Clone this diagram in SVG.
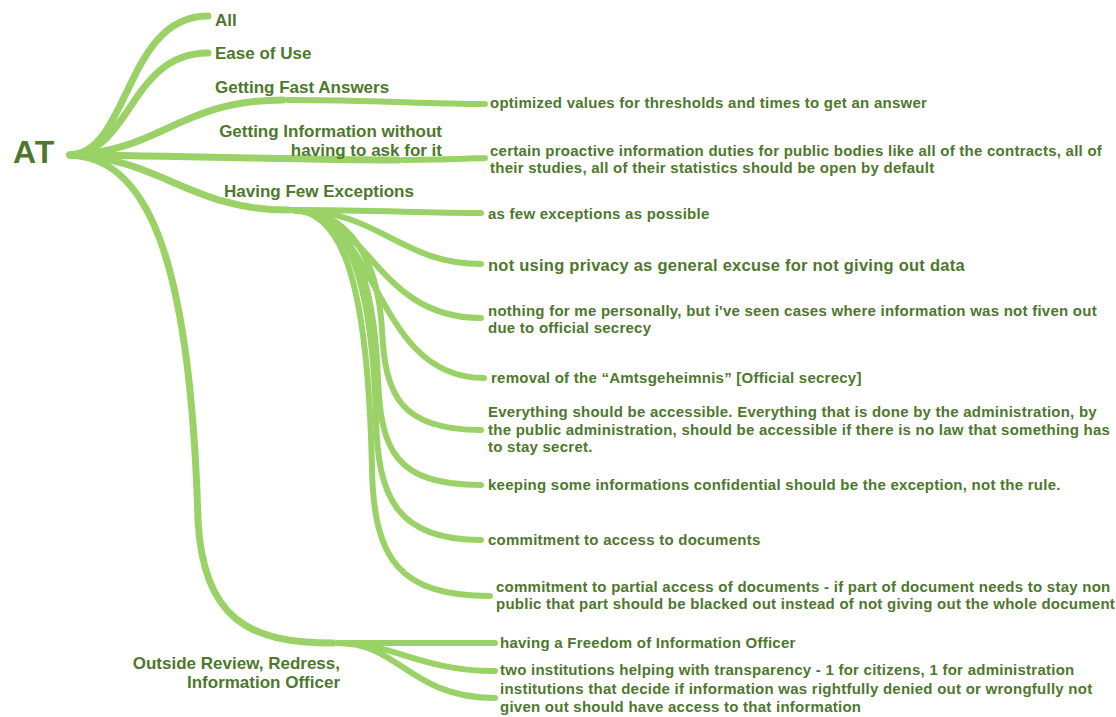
<svg xmlns="http://www.w3.org/2000/svg" width="1116" height="717" viewBox="0 0 1116 717">
  <style>
    .br { fill: none; stroke: #9bd267; stroke-width: 7; stroke-linecap: round; stroke-linejoin: round; }
    .lf { fill: none; stroke: #9bd267; stroke-width: 6; stroke-linecap: round; stroke-linejoin: round; }
    text { font-family: "Liberation Sans", Arial, sans-serif; font-weight: bold; fill: #4d782d; }
    .root { font-size: 32px; letter-spacing: 1px; }
    .topic { font-size: 17px; }
    .leaf { font-size: 15px; letter-spacing: 0.25px; }
    .leaf-big { font-size: 16.5px; letter-spacing: 0.25px; }
  </style>

  <!-- branch lines -->
  <g id="connectors">
    <!-- root to topics -->
    <path class="br" d="M70,155 C130,152 125,16 208,16"/>
    <path class="br" d="M70,155 C132,152 130,53 208,53"/>
    <path class="br" d="M70,155 C160,152 180,100 283,100"/>
    <path class="br" d="M70,155 C200,156 300,160 398,160"/>
    <path class="br" d="M70,155 C160,158 190,210 288,210"/>
    <path class="br" d="M70,155 C145,158 190,250 198,520 C203,620 250,643 333,643"/>

    <!-- Getting Fast Answers -->
    <path class="lf" d="M288,100 C380,100 420,104 485,104"/>
    <!-- Getting Information without having to ask for it -->
    <path class="lf" d="M403,160 C440,160 460,159 485,158"/>

    <!-- Having Few Exceptions -->
    <path class="lf" d="M292,210 C380,210 420,213 481,213"/>
    <path class="lf" d="M292,210 C380,210 400,264 481,264"/>
    <path class="lf" d="M292,210 C370,212 375,318 481,318"/>
    <path class="lf" d="M292,210 C380,212 372,378 484,378"/>
    <path class="lf" d="M292,210 C350,210 378,260 382,330 C385,395 400,430 481,430"/>
    <path class="lf" d="M292,210 C348,210 374,270 378,380 C381,450 395,485 481,485"/>
    <path class="lf" d="M292,210 C345,210 372,270 376,420 C378,495 395,540 481,540"/>
    <path class="lf" d="M292,210 C342,210 368,280 372,470 C374,560 400,596 490,596"/>

    <!-- Outside Review, Redress, Information Officer -->
    <path class="lf" d="M338,643 L495,643"/>
    <path class="lf" d="M338,643 C395,643 420,671 495,671"/>
    <path class="lf" d="M338,643 C400,643 410,698 495,698"/>
  </g>

  <g id="root"><text class="root" x="13" y="163">AT</text></g>

  <g id="topic-all"><text class="topic" x="215" y="26">All</text></g>
  <g id="topic-ease"><text class="topic" x="215" y="59">Ease of Use</text></g>
  <g id="topic-fast"><text class="topic" x="215" y="93">Getting Fast Answers</text></g>
  <g id="topic-info">
    <text class="topic" text-anchor="end"><tspan x="442" y="137">Getting Information without</tspan><tspan x="442" y="156">having to ask for it</tspan></text>
  </g>
  <g id="topic-exceptions"><text class="topic" x="224" y="197">Having Few Exceptions</text></g>
  <g id="topic-outside">
    <text class="topic" text-anchor="end"><tspan x="340" y="669">Outside Review, Redress,</tspan><tspan x="340" y="688">Information Officer</tspan></text>
  </g>

  <g id="leaf-thresholds"><text class="leaf" x="490" y="108">optimized values for thresholds and times to get an answer</text></g>
  <g id="leaf-proactive">
    <text class="leaf"><tspan x="490" y="156">certain proactive information duties for public bodies like all of the contracts, all of</tspan><tspan x="490" y="173">their studies, all of their statistics should be open by default</tspan></text>
  </g>
  <g id="leaf-few"><text class="leaf" x="488" y="219">as few exceptions as possible</text></g>
  <g id="leaf-privacy"><text class="leaf-big" x="488" y="271">not using privacy as general excuse for not giving out data</text></g>
  <g id="leaf-personally">
    <text class="leaf"><tspan x="488" y="316">nothing for me personally, but i've seen cases where information was not fiven out</tspan><tspan x="488" y="333">due to official secrecy</tspan></text>
  </g>
  <g id="leaf-removal"><text class="leaf" x="491" y="383">removal of the “Amtsgeheimnis” [Official secrecy]</text></g>
  <g id="leaf-accessible">
    <text class="leaf"><tspan x="488" y="417">Everything should be accessible. Everything that is done by the administration, by</tspan><tspan x="488" y="435">the public administration, should be accessible if there is no law that something has</tspan><tspan x="488" y="452">to stay secret.</tspan></text>
  </g>
  <g id="leaf-confidential"><text class="leaf" x="488" y="490">keeping some informations confidential should be the exception, not the rule.</text></g>
  <g id="leaf-access"><text class="leaf" x="488" y="545">commitment to access to documents</text></g>
  <g id="leaf-partial">
    <text class="leaf"><tspan x="496" y="592">commitment to partial access of documents - if part of document needs to stay non</tspan><tspan x="496" y="609">public that part should be blacked out instead of not giving out the whole document</tspan></text>
  </g>
  <g id="leaf-officer"><text class="leaf" x="500" y="648">having a Freedom of Information Officer</text></g>
  <g id="leaf-institutions"><text class="leaf" x="500" y="675">two institutions helping with transparency - 1 for citizens, 1 for administration</text></g>
  <g id="leaf-denied">
    <text class="leaf"><tspan x="500" y="694">institutions that decide if information was rightfully denied out or wrongfully not</tspan><tspan x="500" y="712">given out should have access to that information</tspan></text>
  </g>
</svg>
